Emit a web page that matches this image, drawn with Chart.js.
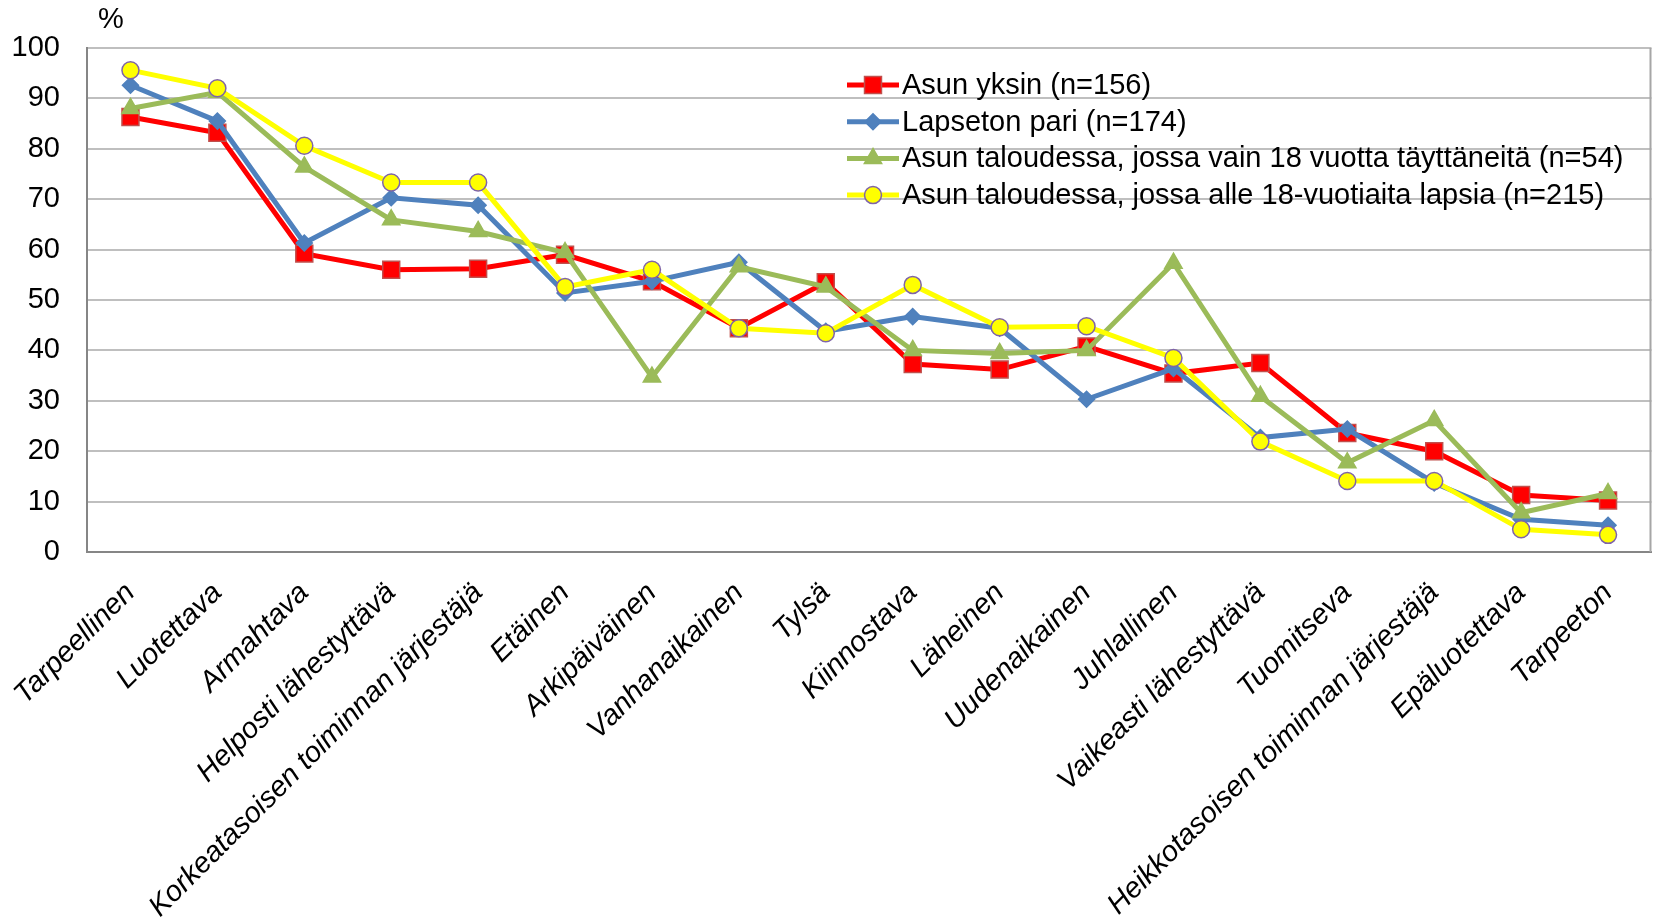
<!DOCTYPE html>
<html>
<head>
<meta charset="utf-8">
<script src="https://cdn.jsdelivr.net/npm/chart.js@4.4.1/dist/chart.umd.min.js"></script>
<style>
    html, body { margin: 0; padding: 0; background: #fff; }
    #chart { display: block; }
</style>
</head>
<body>
<canvas id="chart" width="1665" height="922"></canvas>
<script>
// Kategoriat (x-akseli)
const kategoriat = [
    "Tarpeellinen", "Luotettava", "Armahtava", "Helposti lähestyttävä",
    "Korkeatasoisen toiminnan järjestäjä", "Etäinen", "Arkipäiväinen",
    "Vanhanaikainen", "Tylsä", "Kiinnostava", "Läheinen", "Uudenaikainen",
    "Juhlallinen", "Vaikeasti lähestyttävä", "Tuomitseva",
    "Heikkotasoisen toiminnan järjestäjä", "Epäluotettava", "Tarpeeton"
];

// Sarjat (%)
const asunYksin = [86.3, 83.2, 59.2, 56.0, 56.2, 59.0, 53.7, 44.4, 53.5, 37.3, 36.2, 40.8, 35.4, 37.5, 23.6, 20.0, 11.3, 10.2];
const lapsetonPari = [92.6, 85.5, 61.3, 70.3, 68.8, 51.4, 53.7, 57.5, 43.8, 46.7, 44.4, 30.3, 36.4, 22.7, 24.4, 13.7, 6.5, 5.3];
const vainAikuisia = [88.0, 91.2, 76.4, 65.9, 63.6, 59.4, 34.7, 56.6, 52.6, 40.0, 39.4, 40.0, 57.3, 30.9, 17.7, 26.1, 7.8, 11.6];
const lapsiaTaloudessa = [95.6, 92.0, 80.6, 73.3, 73.3, 52.6, 56.0, 44.4, 43.4, 53.0, 44.6, 44.8, 38.5, 21.9, 14.1, 14.1, 4.5, 3.4];

const sarjaNimet = [
    "Asun yksin (n=156)",
    "Lapseton pari (n=174)",
    "Asun taloudessa, jossa vain 18 vuotta täyttäneitä (n=54)",
    "Asun taloudessa, jossa alle 18-vuotiaita lapsia (n=215)"
];

const yTicks = [0, 10, 20, 30, 40, 50, 60, 70, 80, 90, 100];

const fontti = "'Liberation Sans', Arial, sans-serif";

// Piirtää merkin (neliö, vinoneliö, kolmio, ympyrä)
function piirraMerkki(ctx, tyyli, x, y, r, fill, stroke, lw) {
    ctx.save();
    ctx.beginPath();
    if (tyyli === "rect") {
        const s = r * Math.SQRT1_2;
        ctx.rect(x - s, y - s, 2 * s, 2 * s);
    } else if (tyyli === "rectRot") {
        ctx.moveTo(x, y - r);
        ctx.lineTo(x + r, y);
        ctx.lineTo(x, y + r);
        ctx.lineTo(x - r, y);
        ctx.closePath();
    } else if (tyyli === "triangle") {
        for (let i = 0; i < 3; i++) {
            const a = -Math.PI / 2 + i * 2 * Math.PI / 3;
            const px = x + Math.cos(a) * r;
            const py = y + Math.sin(a) * r;
            if (i === 0) ctx.moveTo(px, py); else ctx.lineTo(px, py);
        }
        ctx.closePath();
    } else {
        ctx.arc(x, y, r, 0, Math.PI * 2);
    }
    ctx.fillStyle = fill;
    ctx.fill();
    ctx.lineWidth = lw;
    ctx.strokeStyle = stroke;
    ctx.stroke();
    ctx.restore();
}

// Oma selite kuvaajan sisällä + "%"-merkki + oikea reunaviiva
const omaPiirto = {
    id: "omaPiirto",
    afterDraw(chart) {
        const ctx = chart.ctx;
        const area = chart.chartArea;

        // oikea reuna
        ctx.save();
        ctx.strokeStyle = "#A6A6A6";
        ctx.lineWidth = 2;
        ctx.beginPath();
        ctx.moveTo(area.right - 1, area.top);
        ctx.lineTo(area.right - 1, area.bottom);
        ctx.stroke();
        ctx.restore();

        // "%"
        ctx.save();
        ctx.fillStyle = "#000";
        ctx.font = "29px " + fontti;
        ctx.textAlign = "left";
        ctx.textBaseline = "middle";
        ctx.fillText("%", area.left + 11, 20);
        ctx.restore();

        // selite
        const x0 = area.left + 760;
        const y0 = area.top + 37;
        const rivi = 36.7;
        chart.data.datasets.forEach((ds, i) => {
            const y = y0 + i * rivi;
            ctx.save();
            ctx.strokeStyle = ds.borderColor;
            ctx.lineWidth = 5;
            ctx.beginPath();
            ctx.moveTo(x0, y);
            ctx.lineTo(x0 + 52, y);
            ctx.stroke();
            ctx.restore();
            piirraMerkki(ctx, ds.pointStyle, x0 + 26, y, ds.pointRadius,
                ds.pointBackgroundColor, ds.pointBorderColor, ds.pointBorderWidth);
            ctx.save();
            ctx.fillStyle = "#000";
            ctx.font = "29px " + fontti;
            ctx.textAlign = "left";
            ctx.textBaseline = "middle";
            ctx.fillText(ds.label, x0 + 55, y + 1);
            ctx.restore();
        });
    }
};

const ctx = document.getElementById("chart").getContext("2d");
new Chart(ctx, {
    type: "line",
    data: {
        labels: kategoriat,
        datasets: [
            {
                label: sarjaNimet[0],
                data: asunYksin,
                borderColor: "#FF0000",
                pointBackgroundColor: "#FF0000",
                pointBorderColor: "#C0504D",
                pointStyle: "rect",
                pointRadius: 12,
                order: 3
            },
            {
                label: sarjaNimet[1],
                data: lapsetonPari,
                borderColor: "#4F81BD",
                pointBackgroundColor: "#4F81BD",
                pointBorderColor: "#4F81BD",
                pointStyle: "rectRot",
                pointRadius: 8,
                order: 2
            },
            {
                label: sarjaNimet[2],
                data: vainAikuisia,
                borderColor: "#9BBB59",
                pointBackgroundColor: "#9BBB59",
                pointBorderColor: "#9BBB59",
                pointStyle: "triangle",
                pointRadius: 10,
                order: 1
            },
            {
                label: sarjaNimet[3],
                data: lapsiaTaloudessa,
                borderColor: "#FFFF00",
                pointBackgroundColor: "#FFFF00",
                pointBorderColor: "#7F64A8",
                pointStyle: "circle",
                pointRadius: 8.5,
                order: 0
            }
        ].map(ds => Object.assign(ds, {
            borderWidth: 5,
            pointBorderWidth: 1.5,
            pointHoverRadius: ds.pointRadius,
            tension: 0,
            fill: false
        }))
    },
    options: {
        responsive: false,
        animation: false,
        devicePixelRatio: 1,
        layout: {
            padding: { top: 48, right: 2, left: 0, bottom: 0 }
        },
        plugins: {
            legend: { display: false },
            tooltip: { enabled: false },
            title: { display: false }
        },
        scales: {
            x: {
                offset: true,
                grid: { display: false },
                border: { display: true, color: "#868686", width: 2 },
                ticks: {
                    autoSkip: false,
                    maxRotation: 45,
                    minRotation: 45,
                    padding: 16,
                    color: "#000",
                    font: { family: fontti, size: 29, style: "italic" }
                },
                afterFit(scale) {
                    scale.height = 370;
                    scale.paddingLeft = 0;
                    scale.paddingRight = 0;
                }
            },
            y: {
                min: 0,
                max: 100,
                afterBuildTicks(scale) {
                    scale.ticks = yTicks.map(v => ({ value: v }));
                },
                grid: { color: "#BFBFBF", lineWidth: 2, drawTicks: false },
                border: { display: true, color: "#868686", width: 2 },
                ticks: {
                    padding: 27,
                    color: "#000",
                    font: { family: fontti, size: 29 }
                },
                afterFit(scale) {
                    scale.width = 87;
                }
            }
        }
    },
    plugins: [omaPiirto]
});
</script>
</body>
</html>
